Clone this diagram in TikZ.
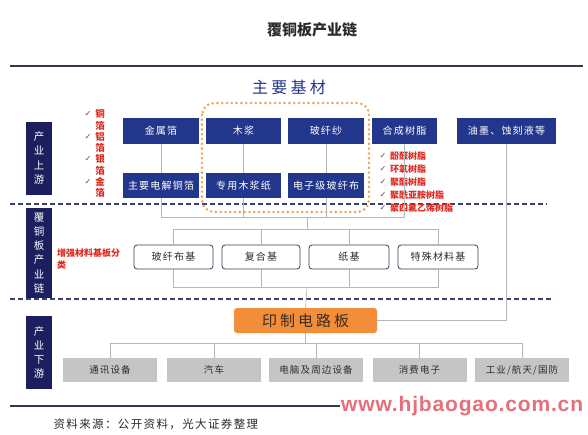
\documentclass[tikz,border=0pt]{standalone}
\usepackage{fontspec}
\setmainfont{Noto Sans CJK SC}
\newfontfamily\spaced[LetterSpace=12]{Noto Sans CJK SC}
\newfontfamily\wide[LetterSpace=20]{Noto Sans CJK SC}
\newfontfamily\symfont{DejaVu Sans}
\newfontfamily\webfont[LetterSpace=4]{Liberation Sans}
\usepackage{tikz}
\usetikzlibrary{positioning}
\definecolor{CCLNavy}{HTML}{22378C}
\definecolor{CCLDeep}{HTML}{1B1F5E}
\definecolor{CCLDash}{HTML}{3A4272}
\definecolor{CCLRule}{HTML}{35354F}
\definecolor{CCLOrange}{HTML}{E9A35A}
\definecolor{CCLPcb}{HTML}{F28E3A}
\definecolor{CCLBrown}{HTML}{3B2B1F}
\definecolor{CCLGray}{HTML}{C5C5C5}
\definecolor{CCLLine}{HTML}{B5B5BD}
\definecolor{CCLRed}{HTML}{E0281E}
\definecolor{CCLTick}{HTML}{8A4040}
\definecolor{CCLEdge}{HTML}{3A3F55}
\definecolor{CCLText}{HTML}{2B2B2B}
\definecolor{CCLMark}{HTML}{E5707C}

\begin{document}
\begin{tikzpicture}[x=1pt,y=-1pt,>=stealth]
  \tikzstyle{material}=[fill=CCLNavy,text=white,minimum width=76pt,
    minimum height=26pt,inner sep=0pt,font=\spaced\fontsize{10}{12}\selectfont]
  \tikzstyle{layerbox}=[fill=CCLDeep,text=white,minimum width=26pt,
    inner sep=0pt,align=center,font=\fontsize{10.5}{14.2}\selectfont]
  \tikzstyle{substrate}=[draw=CCLEdge,line width=0.8pt,fill=white,
    rounded corners=3pt,minimum width=79pt,minimum height=24pt,inner sep=0pt,
    text=CCLText,font=\spaced\fontsize{10}{12}\selectfont]
  \tikzstyle{market}=[fill=CCLGray,minimum width=94pt,minimum height=24pt,
    inner sep=0pt,text=CCLText,font=\spaced\fontsize{9.5}{12}\selectfont]
  \tikzstyle{note}=[text=CCLRed,inner sep=0pt,
    font=\bfseries\fontsize{9}{11}\selectfont]
  \tikzstyle{checkmark}=[text=CCLTick,inner sep=0pt,
    font=\symfont\fontsize{8}{9}\selectfont]
  \tikzstyle{link}=[draw=CCLLine,line width=0.6pt]
  \tikzstyle{divider}=[draw=CCLDash,line width=1.2pt,dash pattern=on 5pt off 3pt]
  \path[use as bounding box,fill=white] (0,0) rectangle (588,434);

  % heading
  \node[text=CCLText,font=\bfseries\fontsize{15}{18}\selectfont] (title) at (312,30) {覆铜板产业链};
  \draw[draw=CCLRule,line width=2pt] (10,66) -- (583,66);
  \node[text=CCLNavy,font=\wide\fontsize{16}{19}\selectfont] (basis) at (289,87) {主要基材};

  % upstream materials
  \node[material] (metal) at (161,131) {金属箔};
  \node[material,minimum width=75pt] (pulp) at (243.5,131) {木浆};
  \node[material] (yarn) at (326,131) {玻纤纱};
  \node[material,minimum width=65pt] (resin) at (404.5,131) {合成树脂};
  \node[material,minimum width=99pt] (ink) at (506.5,131) {油墨、蚀刻液等};
  \node[material,minimum height=25pt] (foil) at (161,185.5) {主要电解铜箔};
  \node[material,minimum width=75pt,minimum height=25pt] (paper) at (243.5,185.5) {专用木浆纸};
  \node[material,minimum height=25pt] (cloth) at (326,185.5) {电子级玻纤布};

  % side labels
  \node[layerbox,minimum height=73pt] (up) at (39,158) {产\\业\\上\\游};
  \node[layerbox,minimum height=90pt] (mid) at (39,253) {覆\\铜\\板\\产\\业\\链};
  \node[layerbox,minimum height=73pt] (down) at (39,352.5) {产\\业\\下\\游};

  \draw[divider] (10,204) -- (547,204);
  \draw[divider] (10,299) -- (553,299);
  \draw[draw=CCLOrange,line width=2.8pt,line cap=round,dash pattern=on 0pt off 4.8pt,
    rounded corners=12pt] (202,103) rectangle (369,212);

  % red notes
  \foreach \m [count=\i] in {铜,铝,银,金}{
    \node[checkmark] (k\i) at (88,{114+22.5*(\i-1)}) {✓};
    \node[note,align=center,font=\bfseries\fontsize{9.5}{11.3}\selectfont] (f\i)
      at (100,{120+22.5*(\i-1)}) {\m\\箔};
  }
  \foreach \r [count=\i] in {酚醛树脂,环氧树脂,聚酯树脂,聚酰亚胺树脂,聚四氟乙烯树脂}{
    \node[checkmark] (q\i) at (383,{156+13*(\i-1)}) {✓};
    \node[note,anchor=west] (r\i) at (390,{156+13*(\i-1)}) {\r};
  }
  \node[note,align=left,anchor=north west,font=\bfseries\fontsize{9}{12}\selectfont]
    (kind) at (57,249) {增强材料基板分\\类};

  % substrates, board, markets
  \node[substrate] (glass) at (173.5,257) {玻纤布基};
  \node[substrate,minimum width=78pt] (comp) at (261,257) {复合基};
  \node[substrate,minimum width=80pt] (pbase) at (349,257) {纸基};
  \node[substrate,minimum width=80pt] (special) at (438,257) {特殊材料基};
  \node[fill=CCLPcb,rounded corners=3pt,minimum width=143pt,minimum height=25pt,
    inner sep=0pt,text=CCLBrown,font=\wide\fontsize{15}{18}\selectfont]
    (pcb) at (305.5,320.5) {印制电路板};
  \foreach \t/\x [count=\i] in {通讯设备/110,汽车/214,电脑及周边设备/316,
    消费电子/419.5,{工业/航天/国防}/522}
    \node[market] (app\i) at (\x,370) {\t};

  % connectors
  \coordinate (tbus) at (307,217);
  \coordinate (mbus) at (307,229);
  \coordinate (lbus) at (307,287);
  \coordinate (abus) at (305.5,343);
  \draw[link] (metal) -- (foil);
  \draw[link] (pulp) -- (paper);
  \draw[link] (yarn) -- (cloth);
  \foreach \s in {foil,paper,cloth,resin}
    \draw[link] (\s.south) |- (tbus);
  \draw[link] (tbus) -- (mbus);
  \foreach \s in {glass,comp,pbase,special}{
    \draw[link] (\s.north) |- (mbus);
    \draw[link] (\s.south) |- (lbus);
  }
  \draw[link] (lbus) -- (pcb.north);
  \draw[link] (ink.south) |- (pcb.east);
  \draw[link] (pcb.south) -- (abus);
  \foreach \i in {1,...,5}
    \draw[link] (app\i.north) |- (abus);

  % footer
  \draw[draw=CCLRule,line width=2pt] (10,406) -- (340,406);
  \node[anchor=west,text=CCLText,font=\spaced\fontsize{11.5}{14}\selectfont]
    (src) at (50,424) {资料来源：公开资料，光大证券整理};
  \node[anchor=west,inner sep=0pt,text=CCLMark,font=\webfont\bfseries\fontsize{21}{24}\selectfont]
    (mark) at (341,406) {www.hjbaogao.com.cn};
\end{tikzpicture}
\end{document}
